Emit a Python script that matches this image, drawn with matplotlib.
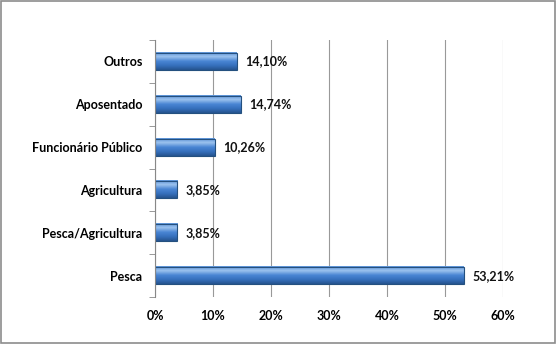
import numpy as np
import matplotlib.pyplot as plt
from matplotlib.patches import Rectangle
from matplotlib.colors import LinearSegmentedColormap

# data, bottom to top as drawn
categories = ['Pesca', 'Pesca/Agricultura', 'Agricultura',
              'Funcionário Público', 'Aposentado', 'Outros']
values = [53.21, 3.85, 3.85, 10.26, 14.74, 14.10]
xticks = [0, 10, 20, 30, 40, 50, 60]

plt.rcParams['font.family'] = ['Lato', 'DejaVu Sans']

fig = plt.figure(figsize=(5.57, 3.44), dpi=100)
ax = fig.add_axes([0.2783, 0.1366, 0.6248, 0.7471])

# bar gradient: dark bottom, light highlight near top
grad = LinearSegmentedColormap.from_list(
    'bar', ['#26548f', '#3670bd', '#4a86d4', '#9cc2ee', '#5c94da'])
h = 0.4
ypos = np.arange(len(categories))
for y, v in zip(ypos, values):
    img = np.linspace(0, 1, 64).reshape(-1, 1)
    ax.imshow(img, cmap=grad, aspect='auto', origin='lower',
              extent=(0, v, y - h / 2, y + h / 2), zorder=3)
    ax.add_patch(Rectangle((0, y - h / 2), v, h, fill=False,
                           ec='#24507f', lw=0.8, zorder=4))
    ax.text(v + 1.5, y, f'{v:.2f}%'.replace('.', ','), va='center',
            ha='left', fontsize=9, fontweight='bold', color='#111111')

ax.set_xlim(0, 60)
ax.set_ylim(-0.5, len(categories) - 0.5)
ax.set_xticks(xticks)
ax.set_xticklabels([f'{t}%' for t in xticks], fontsize=9, fontweight='bold')
ax.set_yticks(ypos)
ax.set_yticklabels(categories, fontsize=9, fontweight='bold')
ax.set_yticks(np.arange(-0.5, len(categories), 1), minor=True)
ax.tick_params(axis='y', which='major', length=0, pad=9)
ax.tick_params(axis='y', which='minor', length=4, color='#888888')
ax.tick_params(axis='x', length=0, pad=9)

ax.grid(axis='x', color='#999999', lw=0.8, zorder=0)
for s in ['top', 'right', 'bottom']:
    ax.spines[s].set_visible(False)
ax.spines['left'].set_color('#888888')
ax.spines['left'].set_zorder(5)

# outer frame
fig.patches.append(Rectangle((0.002, 0.003), 0.995, 0.994, transform=fig.transFigure,
                             fill=False, ec='#8c8c8c', lw=1.2))

fig.savefig('out.png', dpi=100)
